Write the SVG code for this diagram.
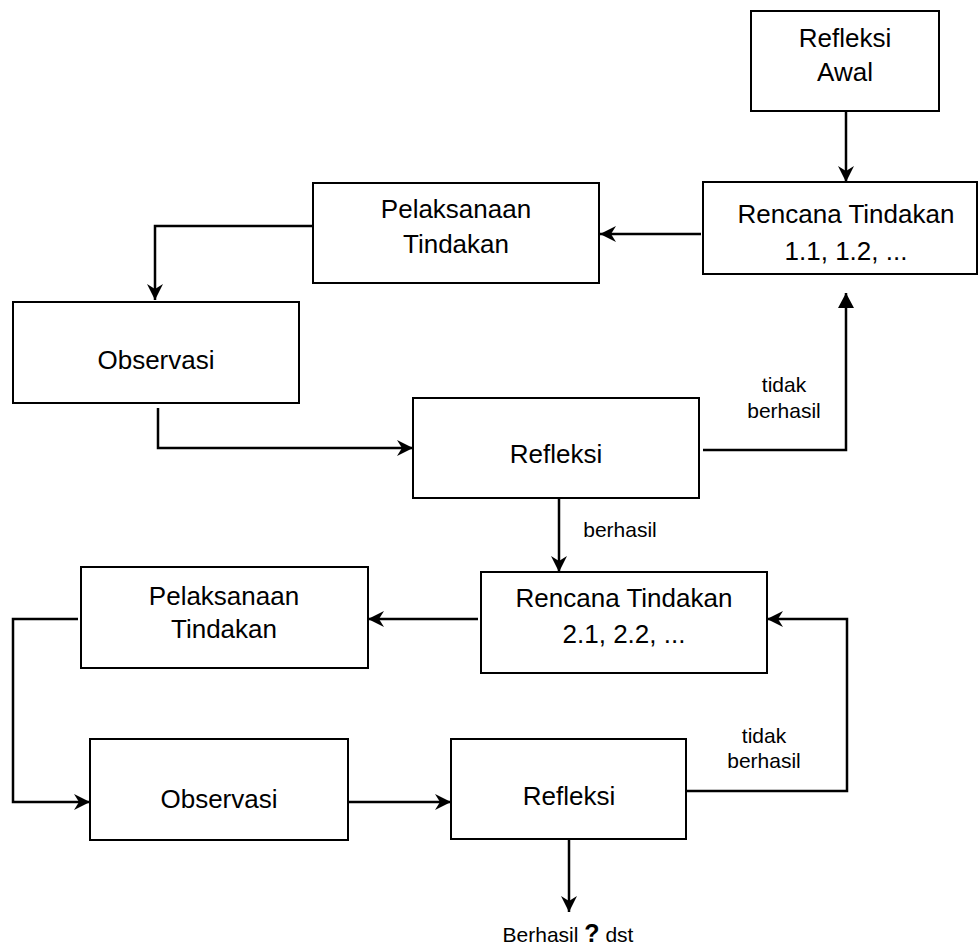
<svg xmlns="http://www.w3.org/2000/svg" width="978" height="947" viewBox="0 0 978 947">
<style>
.box{fill:#fff;stroke:#000;stroke-width:2}
.t{font-family:"Liberation Sans",Arial,sans-serif;font-size:26px;fill:#000;text-anchor:middle}
.s{font-family:"Liberation Sans",Arial,sans-serif;font-size:21px;fill:#000;text-anchor:middle}
.c{fill:none;stroke:#000;stroke-width:2.5}
</style>
<defs>
<marker id="arr" markerUnits="userSpaceOnUse" markerWidth="18" markerHeight="18" refX="16" refY="8" orient="auto">
<path d="M0,0 L16,8 L0,16 L5,8 z" fill="#000"/>
</marker>
<marker id="tri" markerUnits="userSpaceOnUse" markerWidth="18" markerHeight="18" refX="15" refY="8" orient="auto">
<path d="M0,0 L15,8 L0,16 z" fill="#000"/>
</marker>
</defs>
<rect width="978" height="947" fill="#fff"/>
<g id="connectors">
<path class="c" d="M846,111 L846,182" marker-end="url(#arr)"/>
<path class="c" d="M701,234 L600,234" marker-end="url(#arr)"/>
<path class="c" d="M313,226 L155,226 L155,300" marker-end="url(#arr)"/>
<path class="c" d="M158,408 L158,448 L413,448" marker-end="url(#arr)"/>
<path class="c" d="M703,450 L846,450 L846,293" marker-end="url(#tri)"/>
<path class="c" d="M559,498 L559,572" marker-end="url(#arr)"/>
<path class="c" d="M478,619 L368,619" marker-end="url(#arr)"/>
<path class="c" d="M78,619 L13,619 L13,802 L90,802" marker-end="url(#arr)"/>
<path class="c" d="M348,802 L451,802" marker-end="url(#arr)"/>
<path class="c" d="M686,791 L847,791 L847,619 L767,619" marker-end="url(#arr)"/>
<path class="c" d="M569,839 L569,912" marker-end="url(#arr)"/>
<text class="s" x="784" y="392">tidak</text>
<text class="s" x="784" y="418">berhasil</text>
<text class="s" x="620" y="537">berhasil</text>
<text class="s" x="764" y="743">tidak</text>
<text class="s" x="764" y="768">berhasil</text>
<text class="s" x="568" y="942">Berhasil <tspan font-weight="bold" font-size="25">?</tspan> dst</text>
</g>
<g id="refleksi-awal">
<rect class="box" x="751" y="11" width="188" height="100"/>
<text class="t" x="845" y="47">Refleksi</text>
<text class="t" x="845" y="81">Awal</text>
</g>
<g id="rencana-1">
<rect class="box" x="703" y="182" width="274" height="92"/>
<text class="t" x="846" y="223">Rencana Tindakan</text>
<text class="t" x="846" y="260">1.1, 1.2, ...</text>
</g>
<g id="pelaksanaan-1">
<rect class="box" x="313" y="183" width="286" height="100"/>
<text class="t" x="456" y="218">Pelaksanaan</text>
<text class="t" x="456" y="253">Tindakan</text>
</g>
<g id="observasi-1">
<rect class="box" x="13" y="302" width="286" height="101"/>
<text class="t" x="156" y="369">Observasi</text>
</g>
<g id="refleksi-1">
<rect class="box" x="413" y="398" width="286" height="100"/>
<text class="t" x="556" y="463">Refleksi</text>
</g>
<g id="rencana-2">
<rect class="box" x="481" y="572" width="286" height="101"/>
<text class="t" x="624" y="607">Rencana Tindakan</text>
<text class="t" x="624" y="643">2.1, 2.2, ...</text>
</g>
<g id="pelaksanaan-2">
<rect class="box" x="81" y="567" width="287" height="101"/>
<text class="t" x="224" y="605">Pelaksanaan</text>
<text class="t" x="224" y="638">Tindakan</text>
</g>
<g id="observasi-2">
<rect class="box" x="90" y="739" width="258" height="101"/>
<text class="t" x="219" y="808">Observasi</text>
</g>
<g id="refleksi-2">
<rect class="box" x="451" y="739" width="235" height="100"/>
<text class="t" x="569" y="805">Refleksi</text>
</g>
</svg>
